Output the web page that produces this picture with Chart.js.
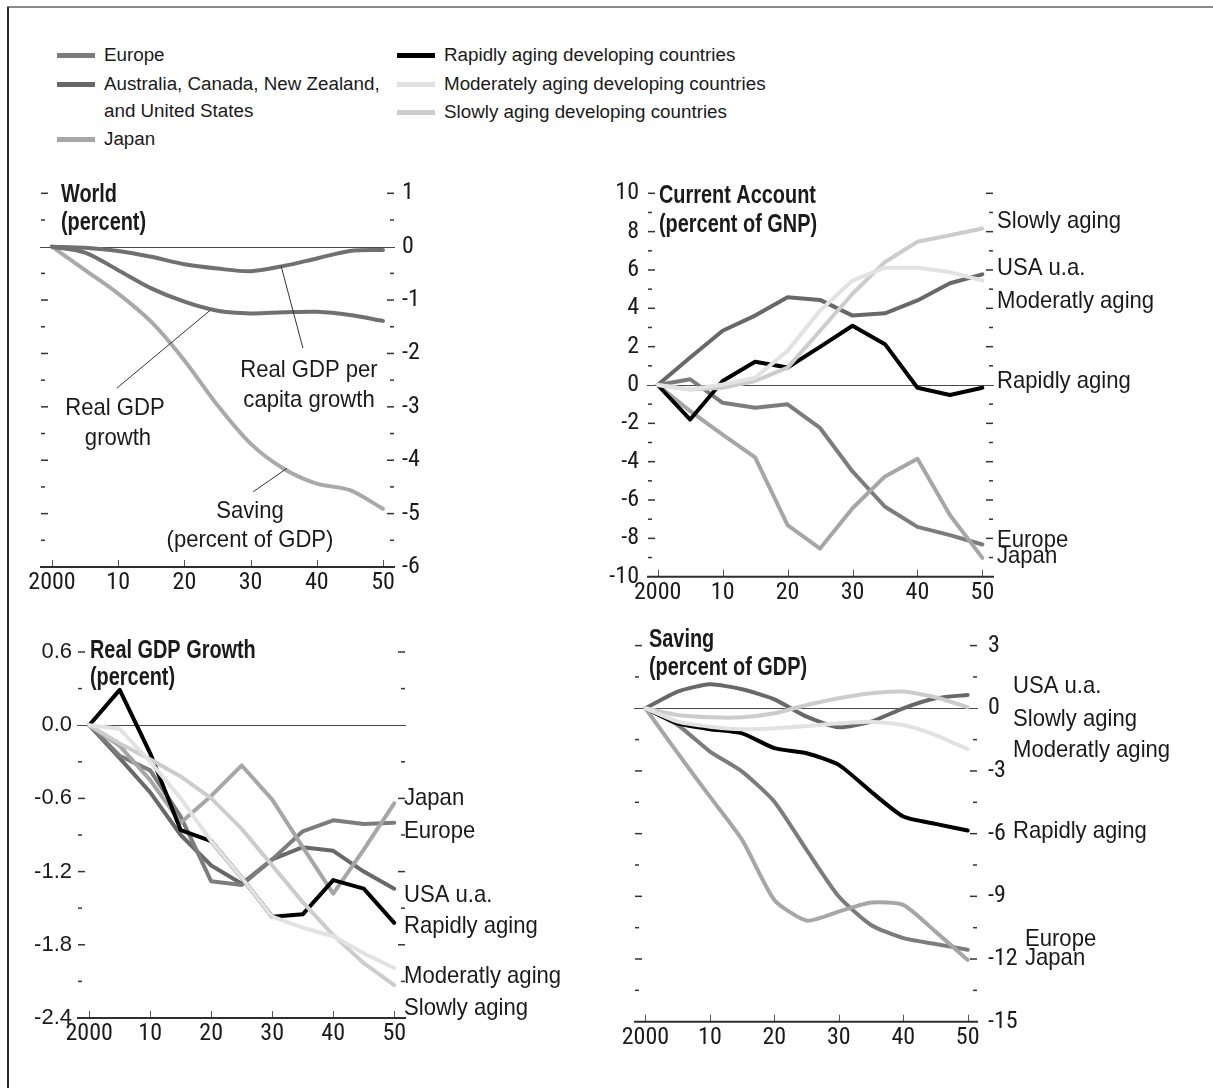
<!DOCTYPE html>
<html>
<head>
<meta charset="utf-8">
<script src="https://cdn.jsdelivr.net/npm/chart.js@4.4.1/dist/chart.umd.min.js"></script>
<style>
  html, body { margin: 0; padding: 0; background: #fff; }
  body { width: 1213px; height: 1088px; position: relative; overflow: hidden; font-family: "Liberation Sans", Arial, sans-serif; color: #1a1a1a; }
  canvas { position: absolute; left: 0; top: 0; }
  .frame-top { position: absolute; left: 7px; top: 6px; width: 1206px; height: 2px; background: #8a8a8a; }
  .frame-left { position: absolute; left: 7px; top: 7px; width: 2px; height: 1081px; background: #2a2a2a; }
  .sw { position: absolute; width: 38px; height: 5px; }
  .lt { position: absolute; font-size: 18.8px; line-height: 20px; white-space: nowrap; }
</style>
</head>
<body>
<div class="frame-top"></div>
<div class="frame-left"></div>

<div id="legend"></div>

<canvas id="world" width="1213" height="1088"></canvas>
<canvas id="account" width="1213" height="1088"></canvas>
<canvas id="growth" width="1213" height="1088"></canvas>
<canvas id="saving" width="1213" height="1088"></canvas>

<script>
// ---- data ----
const years = [2000, 2005, 2010, 2015, 2020, 2025, 2030, 2035, 2040, 2045, 2050];
const xTickValues = [2000, 2010, 2020, 2030, 2040, 2050];
const xTickLabels = ['2000', '10', '20', '30', '40', '50'];

// World (percent)
const worldGdpPerCapita = [0, -0.02, -0.08, -0.19, -0.33, -0.41, -0.46, -0.36, -0.22, -0.08, -0.06];
const worldGdp = [0, -0.11, -0.44, -0.78, -1.03, -1.20, -1.25, -1.23, -1.22, -1.28, -1.39];
const worldSaving = [0, -0.44, -0.88, -1.41, -2.13, -2.97, -3.69, -4.16, -4.44, -4.56, -4.91];
const worldTicks = [1, 0, -1, -2, -3, -4, -5, -6];

// Current account (percent of GNP)
const caEurope = [0, 0.30, -0.93, -1.19, -1.01, -2.24, -4.51, -6.35, -7.40, -7.83, -8.32];
const caUsa = [0, 1.43, 2.83, 3.62, 4.58, 4.44, 3.62, 3.74, 4.41, 5.31, 5.77];
const caJapan = [0, -1.36, -2.59, -3.78, -7.31, -8.53, -6.43, -4.77, -3.85, -6.78, -9.02];
const caRapid = [0, -1.80, 0.21, 1.21, 0.91, 1.99, 3.09, 2.13, -0.14, -0.52, -0.14];
const caModerate = [0, -0.23, 0.03, 0.38, 1.78, 3.88, 5.45, 6.12, 6.12, 5.89, 5.45];
const caSlow = [0, -0.23, -0.14, 0.21, 0.91, 2.83, 4.76, 6.42, 7.47, 7.81, 8.16];
const accountTicks = [10, 8, 6, 4, 2, 0, -2, -4, -6, -8, -10];

// Real GDP growth (percent)
const gdpEurope = [0, -0.25, -0.37, -0.75, -1.28, -1.31, -1.10, -0.87, -0.78, -0.81, -0.80];
const gdpUsa = [0, -0.27, -0.55, -0.90, -1.15, -1.30, -1.10, -1.00, -1.03, -1.20, -1.34];
const gdpJapan = [0, -0.17, -0.45, -0.80, -0.58, -0.33, -0.61, -1.00, -1.38, -1.02, -0.64];
const gdpRapid = [0, 0.29, -0.23, -0.86, -0.95, -1.25, -1.57, -1.55, -1.27, -1.34, -1.62];
const gdpModerate = [0, -0.03, -0.30, -0.60, -0.95, -1.25, -1.57, -1.66, -1.73, -1.87, -1.99];
const gdpSlow = [0, -0.15, -0.28, -0.42, -0.60, -0.85, -1.15, -1.45, -1.72, -1.95, -2.13];
const growthTicks = [0.6, 0, -0.6, -1.2, -1.8, -2.4];

// Saving (percent of GDP)
const svEurope = [0, -0.80, -2.07, -3.03, -4.47, -6.78, -9.01, -10.37, -11.00, -11.28, -11.56];
const svUsa = [0, 0.80, 1.15, 0.91, 0.43, -0.40, -0.91, -0.64, 0.00, 0.48, 0.64];
const svJapan = [0, -2.15, -4.23, -6.30, -9.17, -10.16, -9.73, -9.30, -9.41, -10.69, -12.04];
const svRapid = [0, -0.72, -1.00, -1.20, -1.91, -2.15, -2.71, -3.99, -5.18, -5.53, -5.85];
const svModerate = [0, -0.64, -0.88, -1.00, -0.96, -0.85, -0.72, -0.64, -0.80, -1.28, -1.96];
const svSlow = [0, -0.32, -0.43, -0.43, -0.24, 0.16, 0.48, 0.72, 0.80, 0.53, 0.05];
const savingTicks = [3, 0, -3, -6, -9, -12, -15];

// ---- styles ----
const colors = {
  europe: '#7c7c7c',
  usa: '#686868',
  japan: '#a6a6a6',
  rapid: '#000000',
  moderate: '#e2e2e2',
  slow: '#cccccc',
  worldDark: '#707070',
  worldLight: '#a9a9a9',
  ink: '#1a1a1a'
};
const SANS = '"Liberation Sans", Arial, sans-serif';
const CONDENSED = '"Roboto Condensed", "DejaVu Sans Condensed", "Liberation Sans", sans-serif';
const TITLE_FONT = 'bold 25.5px ' + SANS;
const NOTE_FONT = '24px ' + SANS;

// Legend (html)
const legendItems = [
  { color: colors.europe, x: 57, y: 55, lines: ['Europe'] },
  { color: colors.usa, x: 57, y: 84, lines: ['Australia, Canada, New Zealand,', 'and United States'] },
  { color: colors.japan, x: 57, y: 139, lines: ['Japan'] },
  { color: colors.rapid, x: 397, y: 55, lines: ['Rapidly aging developing countries'] },
  { color: colors.moderate, x: 397, y: 84, lines: ['Moderately aging developing countries'] },
  { color: colors.slow, x: 397, y: 112, lines: ['Slowly aging developing countries'] }
];
const legendEl = document.getElementById('legend');
legendItems.forEach(item => {
  const sw = document.createElement('div');
  sw.className = 'sw';
  sw.style.left = item.x + 'px';
  sw.style.top = (item.y - 2.5) + 'px';
  sw.style.background = item.color;
  legendEl.appendChild(sw);
  item.lines.forEach((txt, i) => {
    const t = document.createElement('div');
    t.className = 'lt';
    t.textContent = txt;
    t.style.left = (item.x + 47) + 'px';
    t.style.top = (item.y - 10 + i * 27) + 'px';
    legendEl.appendChild(t);
  });
});

function pts(vals) {
  return vals.map((v, i) => ({ x: years[i], y: v }));
}

function series(label, vals, color, tension) {
  return {
    label: label,
    data: pts(vals),
    borderColor: color,
    backgroundColor: color,
    borderWidth: 4,
    pointRadius: 0,
    tension: tension || 0,
    fill: false,
    borderCapStyle: 'round',
    borderJoinStyle: 'round'
  };
}

function drawText(ctx, str, x, y, font, align, sx) {
  ctx.save();
  ctx.font = font;
  ctx.fillStyle = colors.ink;
  ctx.textBaseline = 'alphabetic';
  ctx.textAlign = align;
  ctx.translate(x, y);
  ctx.scale(sx, 1);
  ctx.fillText(str, 0, 0);
  ctx.restore();
}

function seg(ctx, x1, y1, x2, y2) {
  ctx.beginPath();
  ctx.moveTo(x1, y1);
  ctx.lineTo(x2, y2);
  ctx.stroke();
}

// axis frame, side dashes, zero line, titles, notes
const decor = {
  id: 'decor',
  beforeDatasetsDraw(chart, args, o) {
    const { ctx, chartArea: a, scales: { x, y } } = chart;
    ctx.save();
    // zero line
    ctx.strokeStyle = '#4a4a4a';
    ctx.lineWidth = 1;
    const y0 = Math.round(y.getPixelForValue(0)) + 0.5;
    seg(ctx, a.left, y0, a.right, y0);
    // dashes on both sides
    ctx.strokeStyle = '#333';
    ctx.lineWidth = 1.5;
    const n = Math.round((y.max - y.min) / o.dashStep);
    for (let i = 0; i <= n; i++) {
      const v = y.min + i * o.dashStep;
      const py = y.getPixelForValue(v);
      if (Math.abs(v) < 1e-9 || i === 0) continue;
      const major = Math.abs(v / o.majorStep - Math.round(v / o.majorStep)) < 1e-6;
      const len = major ? 7 : 4;
      seg(ctx, a.left + 1, py, a.left + 1 + len, py);
      seg(ctx, a.right - 1 - len, py, a.right - 1, py);
    }
    // x tick marks
    ctx.strokeStyle = '#555';
    ctx.lineWidth = 1;
    x.ticks.forEach(t => {
      const px = Math.round(x.getPixelForValue(t.value)) + 0.5;
      seg(ctx, px, a.bottom - 7, px, a.bottom);
    });
    // baseline
    ctx.strokeStyle = '#2e2e2e';
    ctx.lineWidth = 2;
    seg(ctx, a.left, a.bottom, a.right, a.bottom);
    ctx.restore();
  },
  afterDatasetsDraw(chart, args, o) {
    const { ctx, scales: { x, y } } = chart;
    ctx.save();
    ctx.strokeStyle = '#333';
    ctx.lineWidth = 1;
    (o.leaders || []).forEach(l => {
      seg(ctx, x.getPixelForValue(l[0]), y.getPixelForValue(l[1]),
        x.getPixelForValue(l[2]), y.getPixelForValue(l[3]));
    });
    ctx.restore();
    (o.title || []).forEach(t => drawText(ctx, t.text, t.x, t.y, TITLE_FONT, 'left', 0.78));
    (o.notes || []).forEach(t => drawText(ctx, t.text, t.x, t.y, NOTE_FONT, t.align || 'left', 0.92));
  }
};

function makePanel(id, cfg) {
  const tickFont = { family: CONDENSED, size: 24 };
  return new Chart(document.getElementById(id), {
    type: 'line',
    data: { datasets: cfg.datasets },
    options: {
      responsive: false,
      animation: false,
      events: [],
      layout: { autoPadding: false, padding: cfg.padding },
      plugins: {
        legend: { display: false },
        tooltip: { enabled: false },
        decor: cfg.decor
      },
      scales: {
        x: {
          type: 'linear',
          min: cfg.xMin,
          max: cfg.xMax,
          afterBuildTicks: s => { s.ticks = xTickValues.map(v => ({ value: v })); },
          afterFit: s => { s.height = 40; },
          grid: { display: false, drawTicks: false },
          border: { display: false },
          ticks: {
            padding: 2,
            color: colors.ink,
            font: tickFont,
            autoSkip: false,
            maxRotation: 0,
            callback: v => xTickLabels[xTickValues.indexOf(v)]
          }
        },
        y: {
          position: cfg.yPos,
          min: cfg.yMin,
          max: cfg.yMax,
          afterBuildTicks: s => { s.ticks = cfg.yTicks.map(v => ({ value: v })); },
          afterFit: s => { s.width = 60; },
          grid: { display: false, drawTicks: false },
          border: { display: false },
          ticks: {
            padding: cfg.yPad,
            color: colors.ink,
            font: cfg.yFont || tickFont,
            autoSkip: false,
            callback: cfg.yFormat || (v => String(v))
          }
        }
      }
    },
    plugins: [decor]
  });
}

const W = 1213, H = 1088;

// World
makePanel('world', {
  datasets: [
    series('Real GDP per capita growth', worldGdpPerCapita, colors.worldDark, 0.3),
    series('Real GDP growth', worldGdp, colors.worldDark, 0.3),
    series('Saving (percent of GDP)', worldSaving, colors.worldLight, 0.3)
  ],
  padding: { left: 40, right: W - 395 - 60, top: 193.3, bottom: H - 567 - 40 },
  xMin: 1998.19, xMax: 2051.81,
  yPos: 'right', yMin: -6, yMax: 1, yTicks: worldTicks, yPad: 7,
  decor: {
    dashStep: 0.5, majorStep: 1,
    leaders: [
      [2034.6, -0.36, 2037.9, -1.90],
      [2023.9, -1.19, 2009.8, -2.65],
      [2035.5, -4.15, 2030.4, -4.59]
    ],
    title: [
      { text: 'World', x: 61, y: 201.7 },
      { text: '(percent)', x: 61, y: 230 }
    ],
    notes: [
      { text: 'Real GDP per', x: 309, y: 376.7, align: 'center' },
      { text: 'capita growth', x: 309, y: 406.7, align: 'center' },
      { text: 'Real GDP', x: 115, y: 415, align: 'center' },
      { text: 'growth', x: 118, y: 445, align: 'center' },
      { text: 'Saving', x: 250, y: 518.3, align: 'center' },
      { text: '(percent of GDP)', x: 250, y: 546.7, align: 'center' }
    ]
  }
});

// Current account
makePanel('account', {
  datasets: [
    series('Moderately aging', caModerate, colors.moderate),
    series('Slowly aging', caSlow, colors.slow),
    series('Rapidly aging', caRapid, colors.rapid),
    series('Japan', caJapan, colors.japan),
    series('Europe', caEurope, colors.europe),
    series('USA u.a.', caUsa, colors.usa)
  ],
  padding: { left: 647 - 60, right: W - 994, top: 193.3, bottom: H - 576.7 - 40 },
  xMin: 1998.35, xMax: 2051.79,
  yPos: 'left', yMin: -10, yMax: 10, yTicks: accountTicks, yPad: 8,
  decor: {
    dashStep: 1, majorStep: 2,
    title: [
      { text: 'Current Account', x: 659, y: 203.3 },
      { text: '(percent of GNP)', x: 659, y: 231.7 }
    ],
    notes: [
      { text: 'Slowly aging', x: 997, y: 228.3 },
      { text: 'USA u.a.', x: 997, y: 275 },
      { text: 'Moderatly aging', x: 997, y: 308.3 },
      { text: 'Rapidly aging', x: 997, y: 388.3 },
      { text: 'Europe', x: 997, y: 546.7 },
      { text: 'Japan', x: 997, y: 563.3 }
    ]
  }
});

// Real GDP growth
makePanel('growth', {
  datasets: [
    series('Moderately aging', gdpModerate, colors.moderate),
    series('Slowly aging', gdpSlow, colors.slow),
    series('Rapidly aging', gdpRapid, colors.rapid),
    series('Japan', gdpJapan, colors.japan),
    series('Europe', gdpEurope, colors.europe),
    series('USA u.a.', gdpUsa, colors.usa)
  ],
  padding: { left: 77 - 60, right: W - 406, top: 652, bottom: H - 1018 - 40 },
  xMin: 1998.0, xMax: 2051.93,
  yPos: 'left', yMin: -2.4, yMax: 0.6, yTicks: growthTicks, yPad: 5,
  yFont: { family: SANS, size: 22 },
  yFormat: v => (Math.abs(v) < 1e-9 ? 0 : v).toFixed(1),
  decor: {
    dashStep: 0.3, majorStep: 0.6,
    title: [
      { text: 'Real GDP Growth', x: 90, y: 658.3 },
      { text: '(percent)', x: 90, y: 685 }
    ],
    notes: [
      { text: 'Japan', x: 404, y: 805 },
      { text: 'Europe', x: 404, y: 838.3 },
      { text: 'USA u.a.', x: 404, y: 901.7 },
      { text: 'Rapidly aging', x: 404, y: 933.3 },
      { text: 'Moderatly aging', x: 404, y: 983.3 },
      { text: 'Slowly aging', x: 404, y: 1015 }
    ]
  }
});

// Saving
makePanel('saving', {
  datasets: [
    series('Moderately aging', svModerate, colors.moderate, 0.2),
    series('Slowly aging', svSlow, colors.slow, 0.2),
    series('Rapidly aging', svRapid, colors.rapid, 0.2),
    series('Japan', svJapan, colors.japan, 0.2),
    series('Europe', svEurope, colors.europe, 0.2),
    series('USA u.a.', svUsa, colors.usa, 0.2)
  ],
  padding: { left: 634, right: W - 978 - 60, top: 645.6, bottom: H - 1021.7 - 40 },
  xMin: 1998.22, xMax: 2051.6,
  yPos: 'right', yMin: -15, yMax: 3, yTicks: savingTicks, yPad: 10,
  decor: {
    dashStep: 1.5, majorStep: 3,
    title: [
      { text: 'Saving', x: 649, y: 646.7 },
      { text: '(percent of GDP)', x: 649, y: 675 }
    ],
    notes: [
      { text: 'USA u.a.', x: 1013, y: 692.7 },
      { text: 'Slowly aging', x: 1013, y: 726 },
      { text: 'Moderatly aging', x: 1013, y: 757.3 },
      { text: 'Rapidly aging', x: 1013, y: 838.3 },
      { text: 'Europe', x: 1025, y: 946 },
      { text: 'Japan', x: 1025, y: 965 }
    ]
  }
});
</script>
</body>
</html>
